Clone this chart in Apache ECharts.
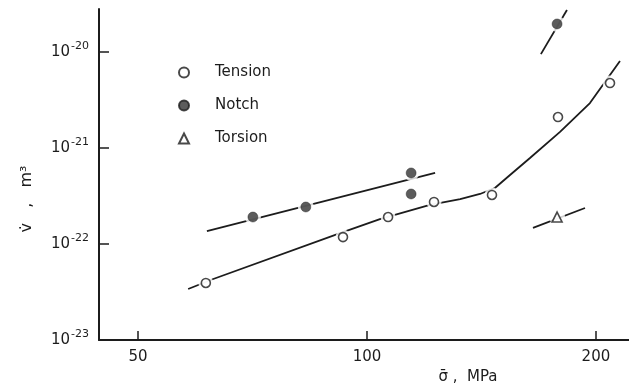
<!DOCTYPE html>
<html>
<head>
<meta charset="utf-8">
<script src="https://cdn.jsdelivr.net/npm/echarts@6/dist/echarts.min.js"></script>
<style>
  html, body { margin: 0; padding: 0; background: #fff; }
  #chart { width: 629px; height: 387px; }
</style>
</head>
<body>
<div id="chart"></div>
<script>
// stress in MPa, activation volume in m^3
const tensionStress = [61.4, 93.0, 106.6, 122.5, 146.0, 178.3, 208.7];
const tensionVolume = [3.93e-23, 1.18e-22, 1.91e-22, 2.74e-22, 3.24e-22, 2.10e-21, 4.75e-21];
const notchStress = [70.8, 83.1, 114.3, 114.3, 177.8];
const notchVolume = [1.91e-22, 2.43e-22, 5.5e-22, 3.32e-22, 1.96e-20];
const torsionStress = [177.8];
const torsionVolume = [1.91e-22];

// hand-drawn fit lines
const tensionFitStress = [58.2, 62.8, 92.2, 104.0, 121.0, 132.6, 140.8, 147.3, 154.2, 163.8, 179.4, 196.4, 215.1];
const tensionFitVolume = [3.40e-23, 4.32e-23, 1.30e-22, 1.82e-22, 2.55e-22, 2.94e-22, 3.32e-22, 3.83e-22, 5.24e-22, 7.87e-22, 1.47e-21, 2.94e-21, 8.05e-21];
const notchFitStress = [61.6, 122.9];
const notchFitVolume = [1.36e-22, 5.5e-22];
const notchHighFitStress = [169.3, 183.2];
const notchHighFitVolume = [9.5e-21, 2.74e-20];
const torsionFitStress = [165.3, 193.5];
const torsionFitVolume = [1.47e-22, 2.37e-22];

const xTicks = [50, 100, 200];
const yTickExps = [-23, -22, -21, -20];

const toLog = (xs, ys) => xs.map((x, i) => [Math.log10(x), Math.log10(ys[i])]);

const font = 'DejaVu Sans';
const ink = '#1c1c1c';

const chart = echarts.init(document.getElementById('chart'));

const lineStyle = { color: ink, width: 1.8 };
const fitLine = (data) => ({
  type: 'line', data: data, symbol: 'none', smooth: false,
  lineStyle: lineStyle, silent: true, z: 2
});
const halo = (data, size) => ({
  type: 'scatter', data: data, symbolSize: size, silent: true, z: 3,
  itemStyle: { color: '#fff', borderWidth: 0 }
});

chart.setOption({
  animation: false,
  backgroundColor: '#fff',
  grid: { left: 99, top: 9, right: 0, bottom: 47 },
  legend: {
    data: ['Tension', 'Notch', 'Torsion'],
    orient: 'vertical',
    left: 173,
    top: 60,
    itemWidth: 10,
    itemHeight: 10,
    itemGap: 18,
    textStyle: { fontFamily: font, fontSize: 15, color: ink, padding: [0, 0, 0, 21] }
  },
  xAxis: {
    type: 'value',
    min: 1.6477,
    max: 2.3445,
    axisLine: { onZero: false, lineStyle: { color: ink, width: 2 } },
    axisTick: { inside: true, length: 9, lineStyle: { color: ink, width: 1.5 },
      customValues: xTicks.map(Math.log10) },
    axisLabel: { customValues: xTicks.map(Math.log10), margin: 10,
      fontFamily: font, fontSize: 15, color: ink,
      formatter: v => String(Math.round(Math.pow(10, v))) },
    splitLine: { show: false }
  },
  yAxis: {
    type: 'value',
    min: -23,
    max: -19.552,
    axisLine: { onZero: false, lineStyle: { color: ink, width: 2 } },
    axisTick: { inside: true, length: 10, lineStyle: { color: ink, width: 1.5 },
      customValues: yTickExps },
    axisLabel: {
      customValues: yTickExps, margin: 10,
      formatter: v => '{b|10}{s|' + Math.round(v) + '}',
      rich: {
        b: { fontFamily: font, fontSize: 15, color: ink },
        s: { fontFamily: font, fontSize: 11, color: ink, padding: [0, 0, 12, 1] }
      }
    },
    splitLine: { show: false }
  },
  graphic: [
    { type: 'text', x: 27, y: 199, rotation: Math.PI / 2,
      style: { text: 'v\u0307   ,   m\u00b3', fontFamily: font, fontSize: 16, fill: ink,
        align: 'center', verticalAlign: 'middle' } },
    { type: 'text', x: 468, y: 377,
      style: { text: '\u03c3\u0304 ,  MPa', fontFamily: font, fontSize: 15, fill: ink,
        align: 'center', verticalAlign: 'middle' } }
  ],
  series: [
    fitLine(toLog(tensionFitStress, tensionFitVolume)),
    fitLine(toLog(notchFitStress, notchFitVolume)),
    fitLine(toLog(notchHighFitStress, notchHighFitVolume)),
    fitLine(toLog(torsionFitStress, torsionFitVolume)),
    halo(toLog(tensionStress, tensionVolume), 15),
    halo(toLog(notchStress, notchVolume), 16),
    halo(toLog(torsionStress, torsionVolume), 16),
    {
      name: 'Tension', type: 'scatter', z: 4, symbol: 'circle', symbolSize: 9,
      data: toLog(tensionStress, tensionVolume),
      itemStyle: { color: '#fff', borderColor: ink, borderWidth: 1.6 }
    },
    {
      name: 'Notch', type: 'scatter', z: 4, symbol: 'circle', symbolSize: 10,
      data: toLog(notchStress, notchVolume),
      itemStyle: { color: '#333', borderColor: ink, borderWidth: 0.5 }
    },
    {
      name: 'Torsion', type: 'scatter', z: 4, symbol: 'triangle', symbolSize: 10,
      data: toLog(torsionStress, torsionVolume),
      itemStyle: { color: '#fff', borderColor: ink, borderWidth: 1.6 }
    }
  ]
});
</script>
</body>
</html>
